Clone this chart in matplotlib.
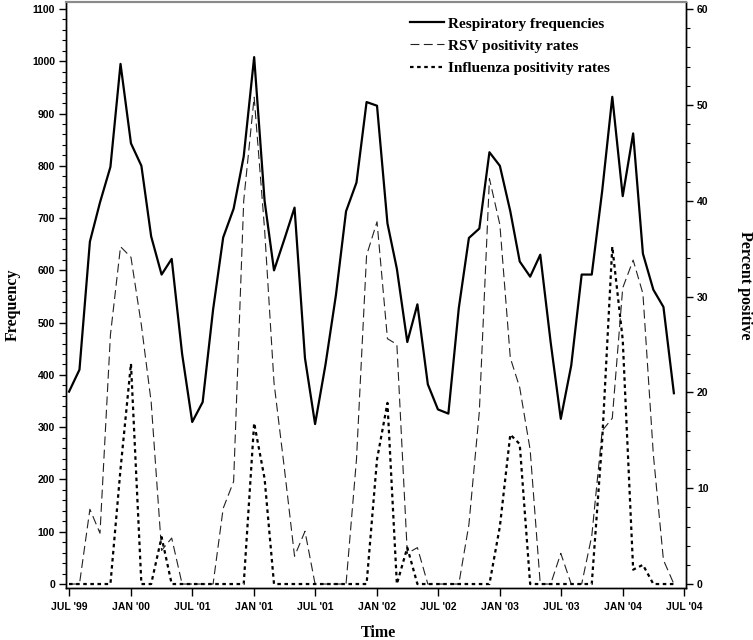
import matplotlib
matplotlib.use('Agg')
import matplotlib.pyplot as plt
import matplotlib.dates as mdates
from matplotlib.ticker import MultipleLocator
import pandas as pd

# monthly data, Jul 1999 - Jun 2004
months = pd.date_range('1999-07-01', periods=60, freq='MS')

resp_freq = [368, 410, 655, 730, 798, 995, 843, 800, 665, 592, 622, 440,
             310, 348, 525, 663, 718, 818, 1008, 733, 600, 660, 720, 432,
             306, 420, 553, 713, 768, 922, 915, 690, 603, 463, 535, 382,
             334, 326, 528, 662, 680, 826, 800, 713, 617, 588, 630, 462,
             316, 418, 592, 592, 752, 932, 742, 862, 632, 563, 530, 365]

rsv_pct = [0, 0, 7.8, 5.3, 26, 35.2, 34.1, 27, 19, 3.5, 4.8, 0,
           0, 0, 0, 7.9, 10.7, 40, 50.8, 37, 21, 12, 2.9, 5.5,
           0, 0, 0, 0, 13, 34.3, 37.8, 25.6, 25, 3.2, 3.8, 0,
           0, 0, 0, 6.2, 18, 42.3, 37.5, 23.6, 20.5, 14, 0, 0,
           3.2, 0, 0, 5, 16, 17.3, 30.9, 33.8, 30.3, 13.5, 2.5, 0]

flu_pct = [0, 0, 0, 0, 0, 12, 23, 0, 0, 4.9, 0, 0,
           0, 0, 0, 0, 0, 0, 16.8, 11, 0, 0, 0, 0,
           0, 0, 0, 0, 0, 0, 13, 18.9, 0, 3.8, 0, 0,
           0, 0, 0, 0, 0, 0, 6, 15.6, 14.6, 0, 0, 0,
           0, 0, 0, 0, 15, 35.2, 25.5, 1.5, 2, 0, 0, 0]

tick_dates = pd.date_range('1999-07-01', '2004-07-01', freq='6MS')
tick_labels = ["JUL '99", "JAN '00", "JUL '01", "JAN '01", "JUL '01", "JAN '02",
               "JUL '02", "JAN '03", "JUL '03", "JAN '04", "JUL '04"]

serif = 'Liberation Serif'
sans = 'Liberation Sans'

fig = plt.figure(figsize=(7.53, 6.40), dpi=100)
ax = fig.add_axes([66 / 753, 52 / 640, 620 / 753, 586 / 640])
ax2 = ax.twinx()

l1, = ax.plot(months, resp_freq, color='black', lw=1.6, ls='-',
              label='Respiratory frequencies')
l2, = ax2.plot(months, rsv_pct, color='#222222', lw=0.8, ls=(0, (8, 4)),
               label='RSV positivity rates')
l3, = ax2.plot(months, flu_pct, color='black', lw=1.6, ls=(0, (1.6, 1.6)),
               label='Influenza positivity rates')

ax.set_xlim(months[0] - pd.Timedelta(days=9), tick_dates[-1] + pd.Timedelta(days=6))
ax.set_ylim(-7.6, 1113.4)
ax2.set_ylim(-7.6 * 60 / 1100, 1113.4 * 60 / 1100)

ax.set_xticks(tick_dates)
ax.set_xticklabels(tick_labels)
ax.yaxis.set_major_locator(MultipleLocator(100))
ax.yaxis.set_minor_locator(MultipleLocator(20))
ax2.yaxis.set_major_locator(MultipleLocator(10))
ax2.yaxis.set_minor_locator(MultipleLocator(2))

for a in (ax, ax2):
    a.tick_params(which='major', direction='out', length=5, width=1, pad=3)
    a.tick_params(which='minor', direction='out', length=3, width=0.8)
    for lab in a.get_xticklabels() + a.get_yticklabels():
        lab.set_fontfamily(sans)
        lab.set_fontweight('bold')
        lab.set_fontsize(7.5)
ax.tick_params(axis='x', length=6, pad=4)

for a in (ax, ax2):
    a.spines['top'].set_color('#8a8a8a')
    a.spines['top'].set_linewidth(1.5)
    for s in ('left', 'right', 'bottom'):
        a.spines[s].set_linewidth(1.0)

fig.text(13 / 753, 1 - 305 / 640, 'Frequency', rotation=90, ha='center', va='center',
         fontfamily=serif, fontweight='bold', fontsize=11.5)
fig.text(745 / 753, 1 - 285 / 640, 'Percent positive', rotation=-90, ha='center',
         va='center', fontfamily=serif, fontweight='bold', fontsize=11.5)
fig.text(378 / 753, 1 - 633 / 640, 'Time', ha='center', va='center',
         fontfamily=serif, fontweight='bold', fontsize=11.5)

ax2.legend(handles=[l1, l2, l3], loc='upper left', frameon=False,
           bbox_to_anchor=(410 / 753, 1 - 17 / 640), bbox_transform=fig.transFigure,
           borderpad=0, borderaxespad=0, handlelength=2.2, handletextpad=0.3,
           labelspacing=0.55, prop={'family': serif, 'weight': 'bold', 'size': 11})

fig.savefig('out.png', dpi=100)
